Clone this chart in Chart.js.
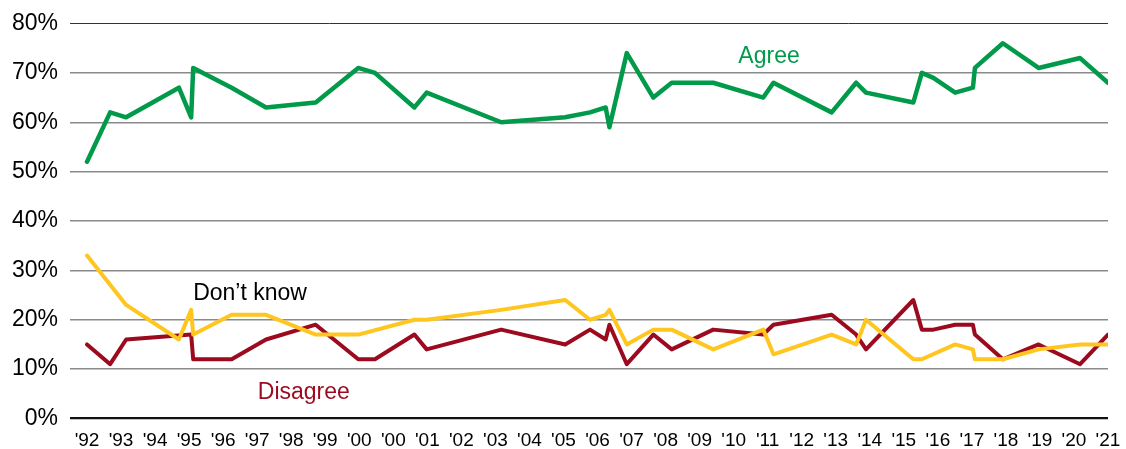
<!DOCTYPE html>
<html>
<head>
<meta charset="utf-8">
<script src="https://cdn.jsdelivr.net/npm/chart.js@4.4.1/dist/chart.umd.min.js"></script>
<style>
  html, body { margin: 0; padding: 0; background: #fff; }
  #wrap { width: 1126px; height: 449px; position: relative; }
</style>
</head>
<body>
<div id="wrap"><canvas id="c"></canvas></div>
<script>
// Tick labels (evenly spaced along the axis)
const tickLabels = ["'92","'93","'94","'95","'96","'97","'98","'99","'00","'00","'01","'02","'03","'04","'05","'06","'07","'08","'09","'10","'11","'12","'13","'14","'15","'16","'17","'18","'19","'20","'21"];

// Survey dates, expressed in tick-label units (0 = '92 ... 30 = '21)
const surveyX = [0, 0.68, 1.15, 2.70, 3.06, 3.12, 4.25, 5.26, 6.72, 7.97,
                 8.46, 9.62, 9.98, 12.17, 14.05, 14.78, 15.24, 15.35, 15.86, 16.64,
                 17.18, 18.40, 19.87, 20.17, 21.88, 22.60, 22.89, 24.28, 24.53, 24.87,
                 25.51, 26.03, 26.09, 26.91, 27.96, 29.18, 30];

const agree    = [52, 62, 61, 67, 61, 71, 67, 63, 64, 71,
                  70, 63, 66, 60, 61, 62, 63, 59, 74, 65,
                  68, 68, 65, 68, 62, 68, 66, 64, 70, 69,
                  66, 67, 71, 76, 71, 73, 68];
const dontKnow = [33, null, 23, 16, 22, 17, 21, 21, 17, 17,
                  null, 20, 20, 22, 24, 20, 21, 22, 15, 18,
                  18, 14, 18, 13, 17, 15, 20, 12, 12, null,
                  15, 14, 12, 12, 14, 15, 15];
const disagree = [15, 11, 16, null, 17, 12, 12, 16, 19, 12,
                  12, 17, 14, 18, 15, 18, 16, 19, 11, 17,
                  14, 18, 17, 19, 21, 17, 14, 24, 18, 18,
                  19, 19, 17, 12, 15, 11, 17];

const yTicks = [0, 10, 20, 30, 40, 50, 60, 70, 80];

const seriesNames  = ["Agree", "Don\u2019t know", "Disagree"];
const seriesColors = ["#009A4A", "#FFC620", "#9B0A1E"];
const textColors   = ["#009A4A", "#000000", "#9B0A1E"];
// In-chart series labels: [x (tick units), y (%)] baseline anchor
const labelAnchors = [[20.04, 71.9], [4.79, 24.0], [6.37, 3.9]];

const FONT = '"Liberation Sans", Arial, Helvetica, sans-serif';

function pts(vals) {
  return surveyX.map((x, i) => ({ x: x, y: vals[i] }));
}

const seriesLabelPlugin = {
  id: 'seriesLabels',
  afterDatasetsDraw(chart) {
    const ctx = chart.ctx;
    const xs = chart.scales.x, ys = chart.scales.y;
    ctx.save();
    ctx.font = '23px ' + FONT;
    ctx.textAlign = 'center';
    ctx.textBaseline = 'alphabetic';
    seriesNames.forEach((name, i) => {
      ctx.fillStyle = textColors[i];
      ctx.fillText(name, xs.getPixelForValue(labelAnchors[i][0]), ys.getPixelForValue(labelAnchors[i][1]));
    });
    ctx.restore();
  }
};

new Chart(document.getElementById('c'), {
  type: 'line',
  data: {
    datasets: [
      { label: seriesNames[0], data: pts(agree),    borderColor: seriesColors[0], borderWidth: 4.5 },
      { label: seriesNames[1], data: pts(dontKnow), borderColor: seriesColors[1], borderWidth: 4 },
      { label: seriesNames[2], data: pts(disagree), borderColor: seriesColors[2], borderWidth: 4 }
    ].map(d => Object.assign(d, {
      fill: false, tension: 0, pointRadius: 0, pointHoverRadius: 0,
      spanGaps: true, borderJoinStyle: 'round', borderCapStyle: 'round'
    }))
  },
  options: {
    responsive: true,
    maintainAspectRatio: false,
    animation: false,
    events: [],
    layout: { padding: { top: 23.5, right: 18, bottom: 0, left: 0 } },
    plugins: { legend: { display: false }, tooltip: { enabled: false } },
    scales: {
      x: {
        type: 'linear',
        min: -0.5,
        max: 30,
        afterBuildTicks: (s) => { s.ticks = tickLabels.map((_, i) => ({ value: i })); },
        afterFit: (s) => { s.height = 30.5; s.paddingLeft = 0; s.paddingRight = 0; },
        ticks: {
          autoSkip: false,
          maxRotation: 0,
          padding: 11,
          color: '#000',
          font: { family: FONT, size: 19 },
          callback: (v) => tickLabels[Math.round(v)]
        },
        grid: { display: false, drawTicks: false },
        border: { display: false }
      },
      y: {
        min: 0,
        max: 80,
        afterBuildTicks: (s) => { s.ticks = yTicks.map(v => ({ value: v })); },
        afterFit: (s) => { s.width = 70; s.paddingTop = 0; s.paddingBottom = 0; },
        ticks: {
          padding: 12,
          color: '#000',
          font: { family: FONT, size: 23 },
          callback: (v) => v + '%'
        },
        grid: {
          drawTicks: false,
          color: (c) => c.tick.value === 0 ? '#111' : (c.tick.value === 80 ? '#333' : '#8a8a8a'),
          lineWidth: (c) => c.tick.value === 0 ? 2.2 : (c.tick.value === 80 ? 1 : 1.5)
        },
        border: { display: false }
      }
    }
  },
  plugins: [seriesLabelPlugin]
});
</script>
</body>
</html>
